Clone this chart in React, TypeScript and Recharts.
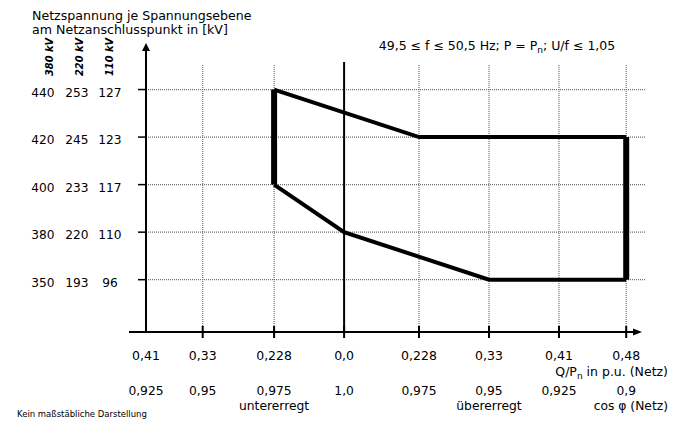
import React from 'react';
import { ComposedChart, Line, XAxis, YAxis, ReferenceLine, ReferenceDot } from 'recharts';

// Q/Pn categories (not to scale)
const qLabels = ['0,41', '0,33', '0,228', '0,0', '0,228', '0,33', '0,41', '0,48'];
const qValues = [-0.41, -0.33, -0.228, 0, 0.228, 0.33, 0.41, 0.48];
const cosPhiLabels = ['0,925', '0,95', '0,975', '1,0', '0,975', '0,95', '0,925', '0,9'];
const excitationLabels = ['', '', 'untererregt', '', '', 'übererregt', '', ''];
const qAxisPos = [0, 0.81, 1.83, 2.83, 3.9, 4.9, 5.9, 6.86];

// voltage levels per grid level
const u380 = [350, 380, 400, 420, 440];
const u220 = [193, 220, 233, 245, 253];
const u110 = [96, 110, 117, 123, 127];
const uAxisPos = [1, 2, 3, 4, 5];
const kvHeaders = ['380 kV', '220 kV', '110 kV'];

// operating range boundary (Q/Pn, U at 380 kV)
const upperLimit = [{ q: -0.228, u: 440 }, { q: 0.228, u: 420 }, { q: 0.48, u: 420 }];
const lowerLimit = [{ q: -0.228, u: 400 }, { q: 0, u: 380 }, { q: 0.33, u: 350 }, { q: 0.48, u: 350 }];
const leftLimit = [{ q: -0.228, u: 440 }, { q: -0.228, u: 400 }];
const rightLimit = [{ q: 0.48, u: 420 }, { q: 0.48, u: 350 }];

const FONT = '"DejaVu Sans", Verdana, sans-serif';

const toPoint = (p: { q: number; u: number }) => ({
  x: qAxisPos[qValues.indexOf(p.q)],
  y: uAxisPos[u380.indexOf(p.u)],
});

const AXIS_Y = -0.1;

const XTick = (props: any) => {
  const { x, payload } = props;
  const i = qAxisPos.indexOf(payload.value);
  if (i < 0) return null;
  return (
    <g fontFamily={FONT} fill="#000">
      <text x={x} y={360} textAnchor="middle" fontSize={12.5}>{qLabels[i]}</text>
      <text x={x} y={395} textAnchor="middle" fontSize={12.3}>{cosPhiLabels[i]}</text>
      {excitationLabels[i] ? (
        <text x={x} y={409.5} textAnchor="middle" fontSize={12.3}>{excitationLabels[i]}</text>
      ) : null}
    </g>
  );
};

const YTick = (props: any) => {
  const { y, payload } = props;
  const i = uAxisPos.indexOf(payload.value);
  if (i < 0) return null;
  const by = y + 7;
  return (
    <g fontFamily={FONT} fill="#000" fontSize={12.2}>
      <text x={43} y={by} textAnchor="middle">{u380[i]}</text>
      <text x={77} y={by} textAnchor="middle">{u220[i]}</text>
      <text x={110} y={by} textAnchor="middle">{u110[i]}</text>
    </g>
  );
};

const ArrowUp = (p: any) => (
  <path d={`M${p.cx},${p.cy} L${p.cx - 4},${p.cy + 8} L${p.cx + 4},${p.cy + 8} Z`} fill="#000" />
);
const ArrowRight = (p: any) => (
  <path d={`M${p.cx},${p.cy} L${p.cx - 9},${p.cy - 3.5} L${p.cx - 9},${p.cy + 3.5} Z`} fill="#000" />
);

export default function App() {
  const grid = { stroke: '#6e6e6e', strokeWidth: 1.2, strokeDasharray: '1 1' };
  return (
    <div style={{ position: 'absolute', left: 0, top: 0, width: 681, height: 437, background: '#fff' }}>
      <ComposedChart width={681} height={437} margin={{ top: 42, right: 24, bottom: 56, left: 51 }}>
        <XAxis
          type="number"
          dataKey="x"
          domain={[-0.5, 7.3]}
          ticks={qAxisPos}
          interval={0}
          tick={<XTick />}
          axisLine={false}
          tickLine={false}
          height={30}
          allowDataOverflow
        />
        <YAxis
          type="number"
          dataKey="y"
          domain={[-0.5, 6]}
          ticks={uAxisPos}
          interval={0}
          tick={<YTick />}
          axisLine={false}
          tickLine={false}
          width={60}
          allowDataOverflow
        />
        {/* horizontal grid */}
        {uAxisPos.map((u) => (
          <ReferenceLine key={'h' + u} segment={[{ x: 0, y: u }, { x: 7.13, y: u }]} {...grid} ifOverflow="visible" />
        ))}
        {/* vertical grid */}
        {qAxisPos.map((x, i) =>
          i === 0 || qValues[i] === 0 ? null : (
            <ReferenceLine key={'v' + i} segment={[{ x, y: AXIS_Y }, { x, y: 5.537 }]} {...grid} ifOverflow="visible" />
          )
        )}
        {/* Q = 0 line */}
        <ReferenceLine
          segment={[{ x: qAxisPos[3], y: AXIS_Y }, { x: qAxisPos[3], y: 5.58 }]}
          stroke="#000"
          strokeWidth={2}
          ifOverflow="visible"
        />
        {/* axes */}
        <ReferenceLine segment={[{ x: 0, y: AXIS_Y }, { x: 0, y: 5.85 }]} stroke="#000" strokeWidth={2} ifOverflow="visible" />
        <ReferenceLine segment={[{ x: -0.243, y: AXIS_Y }, { x: 6.98, y: AXIS_Y }]} stroke="#000" strokeWidth={2} ifOverflow="visible" />
        {uAxisPos.map((u) => (
          <ReferenceLine key={'yt' + u} segment={[{ x: -0.114, y: u }, { x: 0, y: u }]} stroke="#000" strokeWidth={1.5} ifOverflow="visible" />
        ))}
        {qAxisPos.map((x, i) =>
          i === 0 ? null : (
            <ReferenceLine key={'xt' + i} segment={[{ x, y: -0.227 }, { x, y: 0.026 }]} stroke="#000" strokeWidth={2} ifOverflow="visible" />
          )
        )}
        <ReferenceDot x={0} y={5.98} r={0} shape={ArrowUp} ifOverflow="visible" />
        <ReferenceDot x={7.086} y={AXIS_Y} r={0} shape={ArrowRight} ifOverflow="visible" />
        {/* operating range */}
        <Line data={upperLimit.map(toPoint)} dataKey="y" type="linear" stroke="#000" strokeWidth={4} dot={false} activeDot={false} isAnimationActive={false} />
        <Line data={lowerLimit.map(toPoint)} dataKey="y" type="linear" stroke="#000" strokeWidth={4} dot={false} activeDot={false} isAnimationActive={false} />
        <Line data={leftLimit.map(toPoint)} dataKey="y" type="linear" stroke="#000" strokeWidth={6} dot={false} activeDot={false} isAnimationActive={false} />
        <Line data={rightLimit.map(toPoint)} dataKey="y" type="linear" stroke="#000" strokeWidth={6} dot={false} activeDot={false} isAnimationActive={false} />
      </ComposedChart>
      <svg width={681} height={437} style={{ position: 'absolute', left: 0, top: 0, pointerEvents: 'none' }}>
        <g fontFamily={FONT} fill="#000">
          <text x={32} y={19.5} fontSize={12.6}>Netzspannung je Spannungsebene</text>
          <text x={32} y={33.5} fontSize={12.6}>am Netzanschlusspunkt in [kV]</text>
          {kvHeaders.map((h, i) => {
            const bx = [53, 83, 113][i];
            return (
              <text key={h} x={bx} y={57} transform={`rotate(-90 ${bx} 57)`} textAnchor="middle" fontSize={9.8} fontWeight="bold" fontStyle="italic">
                {h}
              </text>
            );
          })}
          <text x={497} y={50} textAnchor="middle" fontSize={12.5}>
            49,5 ≤ f ≤ 50,5 Hz; P = P<tspan fontSize={9} dy={3}>n</tspan>
            <tspan dy={-3}>; U/f ≤ 1,05</tspan>
          </text>
          <text x={668} y={376} textAnchor="end" fontSize={12.5}>
            Q/P<tspan fontSize={9} dy={3}>n</tspan>
            <tspan dy={-3}> in p.u. (Netz)</tspan>
          </text>
          <text x={668} y={410} textAnchor="end" fontSize={12.3}>cos φ (Netz)</text>
          <text x={17} y={417} fontSize={8.5}>Kein maßstäbliche Darstellung</text>
        </g>
      </svg>
    </div>
  );
}
